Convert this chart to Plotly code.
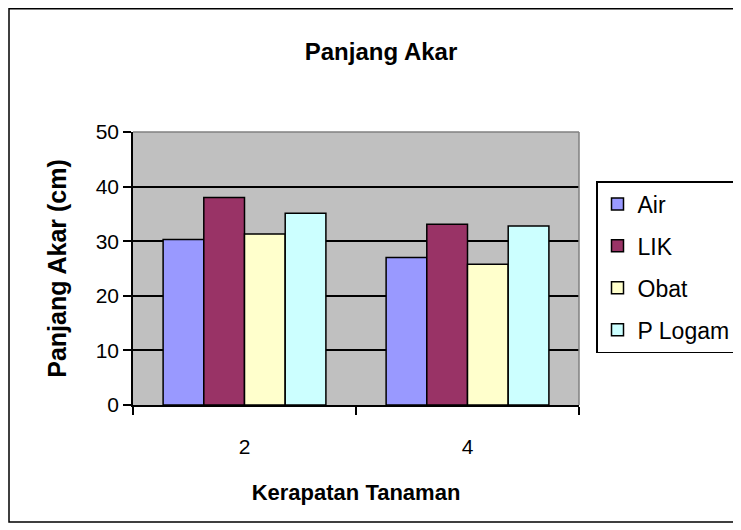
import plotly.graph_objects as go

categories = ["2", "4"]
series_names = ["Air", "LIK", "Obat", "P Logam"]
air = [30.3, 27.0]
lik = [38.0, 33.1]
obat = [31.3, 25.8]
p_logam = [35.1, 32.8]
colors = ["#9999FF", "#993366", "#FFFFCC", "#CCFFFF"]
y_ticks = [0, 10, 20, 30, 40, 50]

FONT = "Liberation Sans, Arial, sans-serif"

fig = go.Figure()
for name, vals, col in zip(series_names, [air, lik, obat, p_logam], colors):
    fig.add_trace(go.Bar(
        x=categories, y=vals, name=name, legendgroup=name,
        marker=dict(color=col, line=dict(color="black", width=1.5)),
    ))

# page body has an 8px margin, so the figure is 8px smaller and offset
W, H = 733, 522
L, T = 125, 124
pw, ph = 446, 273
R = W - L - pw
B = H - T - ph
bottom = T + ph

fig.update_layout(
    width=W, height=H, autosize=False,
    margin=dict(l=L, r=R, t=T, b=B, pad=0),
    paper_bgcolor="white", plot_bgcolor="#C0C0C0",
    barmode="group", bargap=0.27, bargroupgap=0,
    font=dict(family=FONT, size=21, color="black"),
    title=dict(text="<b>Panjang Akar</b>", x=373 / W, xanchor="center",
               y=1 - 44 / H, yanchor="middle", yref="container",
               font=dict(size=24, family=FONT, color="black")),
    showlegend=True,
    legend=dict(xref="container", yref="container",
                x=588 / W, xanchor="left", y=1 - 173 / H, yanchor="top",
                bgcolor="white", bordercolor="black", borderwidth=1.5,
                font=dict(size=23, family=FONT), traceorder="grouped",
                tracegroupgap=9),
    xaxis=dict(
        type="category", showgrid=False, tickson="boundaries",
        ticks="outside", ticklen=8, tickwidth=1.5, tickcolor="black",
        showline=True, linecolor="black", linewidth=1.5,
        ticklabelstandoff=22, automargin=False,
        title=dict(text="<b>Kerapatan Tanaman</b>", standoff=28,
                   font=dict(size=22, family=FONT)),
    ),
    yaxis=dict(
        range=[0, 50], tickvals=y_ticks, showgrid=True, gridcolor="black", gridwidth=1.5,
        ticks="outside", ticklen=8, tickwidth=1.5, tickcolor="black",
        showline=True, linecolor="black", linewidth=1.5, zeroline=False,
        ticklabelstandoff=0, automargin=False,
        title=dict(text="<b>Panjang Akar (cm)</b>", standoff=22,
                   font=dict(size=25, family=FONT)),
    ),
    shapes=[
        dict(type="rect", xref="paper", yref="paper",
             x0=(1 - L) / pw, x1=(800 - L) / pw, y0=(bottom - 514) / ph, y1=(bottom - 0.75) / ph,
             line=dict(color="black", width=1.5), fillcolor="rgba(0,0,0,0)", layer="below"),
        dict(type="line", xref="paper", yref="paper", x0=0, x1=1, y0=1, y1=1,
             line=dict(color="#808080", width=1.5)),
        dict(type="line", xref="paper", yref="paper", x0=1, x1=1, y0=0, y1=1,
             line=dict(color="#808080", width=1.5)),
    ],
)

fig.write_html("out.html")
